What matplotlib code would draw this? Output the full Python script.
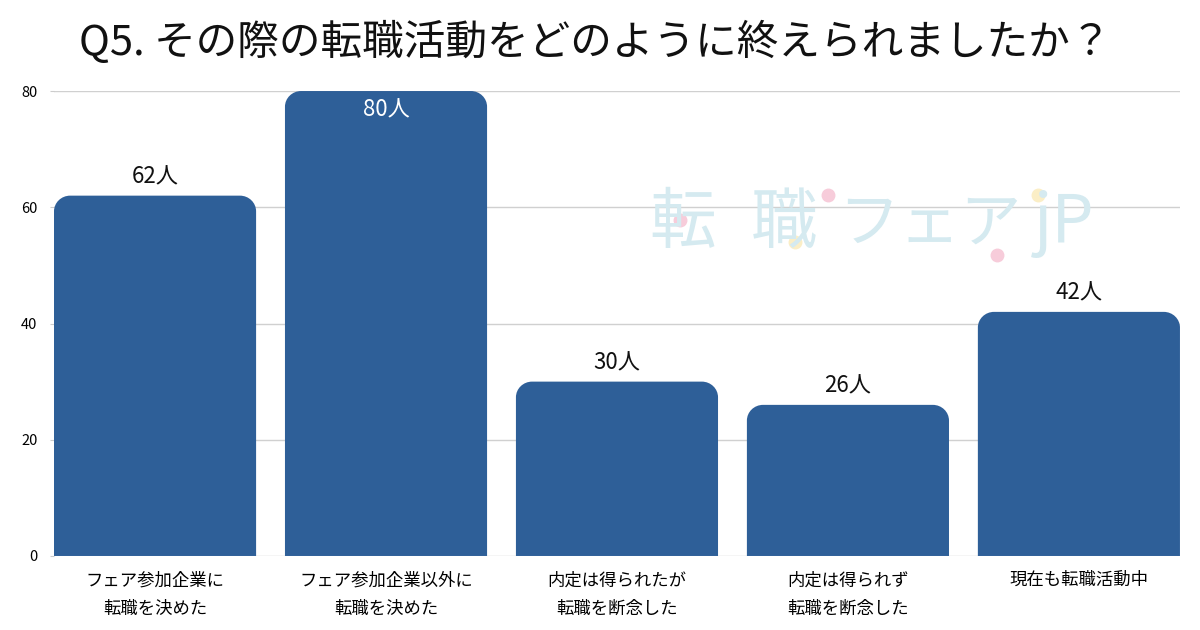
import matplotlib
matplotlib.use("Agg")
import matplotlib.pyplot as plt
from matplotlib.path import Path
from matplotlib.patches import PathPatch
from matplotlib.lines import Line2D

plt.rcParams['font.family'] = ['Noto Sans CJK JP', 'DejaVu Sans']

title = 'Q5. その際の転職活動をどのように終えられましたか？'
categories = ['フェア参加企業に\n転職を決めた',
              'フェア参加企業以外に\n転職を決めた',
              '内定は得られたが\n転職を断念した',
              '内定は得られず\n転職を断念した',
              '現在も転職活動中']
counts = [62, 80, 30, 26, 42]
yticks = [0, 20, 40, 60, 80]

bar_color = '#2E5F98'


def rounded_top(x, y, w, h, rx, ry):
    # rectangle with rounded top corners (elliptical, data units)
    k = 0.5523
    verts = [
        (x, y),
        (x, y + h - ry),
        (x, y + h - ry + k * ry), (x + rx - k * rx, y + h), (x + rx, y + h),
        (x + w - rx, y + h),
        (x + w - rx + k * rx, y + h), (x + w, y + h - ry + k * ry), (x + w, y + h - ry),
        (x + w, y),
        (x, y),
    ]
    codes = [Path.MOVETO, Path.LINETO,
             Path.CURVE4, Path.CURVE4, Path.CURVE4,
             Path.LINETO,
             Path.CURVE4, Path.CURVE4, Path.CURVE4,
             Path.LINETO, Path.CLOSEPOLY]
    return Path(verts, codes)


fig = plt.figure(figsize=(12, 6.3), dpi=100)

# faint logo watermark, drawn first so it sits under everything
logo_parts = [('転', 683, 48), ('職', 784, 48), ('フェア', 930, 44), ('jP', 1064, 48)]
for s, px, fs in logo_parts:
    fig.text(px / 1200, 1 - 224 / 630, s, ha='center', va='center',
             fontsize=fs, color='#D5EAF0', zorder=0)
for px, py, c in [(680, 220, '#F7CCDA'), (828, 195, '#F7CCDA'),
                  (997, 255, '#F7CCDA'), (795, 242, '#FBEEC6'),
                  (1038, 195, '#FBEEC6')]:
    fig.add_artist(Line2D([px / 1200], [1 - py / 630], marker='o',
                          markersize=9, color=c, linestyle='none',
                          transform=fig.transFigure, zorder=0))

ax = fig.add_axes([0.045, 0.1175, 0.9383, 0.738])
ax.patch.set_alpha(0)

x = range(len(categories))
bars = ax.bar(x, counts, width=0.875, color=bar_color, zorder=3)
ax.set_xlim(-0.4375, len(categories) - 1 + 0.4375)
ax.set_ylim(0, 80)

# swap the plain bars for ones with rounded tops
for b in bars:
    bx, by = b.get_x(), b.get_y()
    bw, bh = b.get_width(), b.get_height()
    b.set_visible(False)
    ax.add_patch(PathPatch(rounded_top(bx, by, bw, bh, 0.07, 2.7),
                           facecolor=bar_color, edgecolor='none', zorder=3))

for i, v in enumerate(counts):
    if v >= 75:
        ax.text(i, v - 3.2, f'{v}人', ha='center', va='center',
                fontsize=16, color='white', zorder=4)
    else:
        ax.text(i, v + 3.3, f'{v}人', ha='center', va='center',
                fontsize=16, color='#111111', zorder=4)

ax.set_xticks(list(x))
ax.set_xticklabels(categories, fontsize=12.5, linespacing=1.75)
ax.tick_params(axis='x', length=0, pad=11)
ax.set_yticks(yticks)
ax.tick_params(axis='y', length=3, color='#cccccc', labelsize=10.5, pad=9)
ax.grid(axis='y', color='#d0d0d0', linewidth=1, zorder=1)
ax.set_axisbelow(True)
for s in ax.spines.values():
    s.set_visible(False)

fig.text(0.496, 0.932, title, ha='center', va='center', fontsize=30,
         color='#111111')

fig.savefig('out.png', dpi=100)
